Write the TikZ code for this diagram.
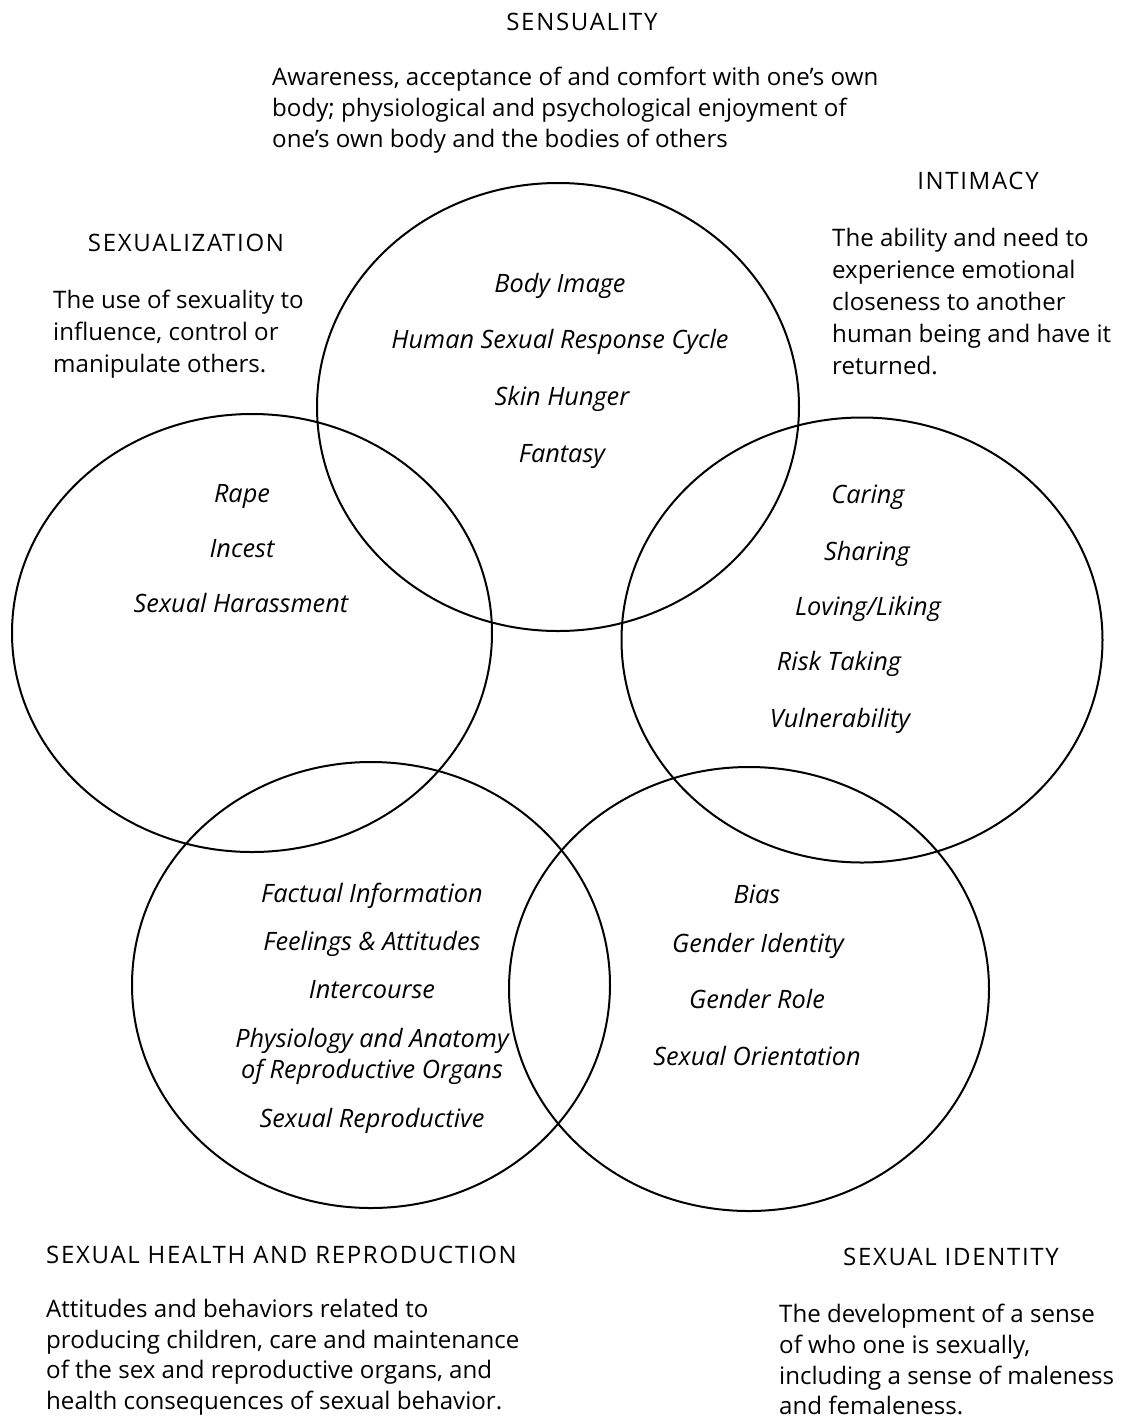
\documentclass[tikz,border=0pt]{standalone}
\usepackage{fontspec}
\setmainfont{Open Sans}
\newfontfamily\headfont{Open Sans}[LetterSpace=7]
\usetikzlibrary{shapes.geometric}
\begin{document}
\begin{tikzpicture}[x=1pt,y=-1pt,
  ring/.style={draw=black,line width=2pt,ellipse,inner sep=0pt},
  head/.style={inner sep=0pt,anchor=base,font=\headfont\fontsize{24}{28}\selectfont},
  headw/.style={inner sep=0pt,anchor=base west,font=\headfont\fontsize{24}{28}\selectfont},
  para/.style={inner sep=0pt,anchor=base west,font=\fontsize{24.1}{29}\selectfont},
  item/.style={inner sep=0pt,anchor=base,font=\fontsize{25.3}{30}\selectfont\itshape}]
\useasboundingbox (0,0) rectangle (1124,1422);
\fill[white] (0,0) rectangle (1124,1422);
% circles
\node[ring,minimum width=482pt,minimum height=448pt] (sens) at (558,407) {};
\node[ring,minimum width=480pt,minimum height=438pt] (sexz) at (252,633) {};
\node[ring,minimum width=481pt,minimum height=445pt] (intim) at (862,640) {};
\node[ring,minimum width=478pt,minimum height=446pt] (health) at (371,985) {};
\node[ring,minimum width=480pt,minimum height=444pt] (ident) at (749,989) {};
% headings
\node[head] (hsens) at (582,30) {SENSUALITY};
\node[head] (hint) at (978,189) {INTIMACY};
\node[head] (hsexz) at (186,251) {SEXUALIZATION};
\node[headw] (hhealth) at (46,1263) {SEXUAL HEALTH AND REPRODUCTION};
\node[head] (hident) at (951,1265) {SEXUAL IDENTITY};
% descriptions
\node[para] (ds1) at (272,85) {Awareness, acceptance of and comfort with one's own};
\node[para] (ds2) at (272,116) {body; physiological and psychological enjoyment of};
\node[para] (ds3) at (272,147) {one's own body and the bodies of others};
\node[para] (di1) at (832,246) {The ability and need to};
\node[para] (di2) at (832,278) {experience emotional};
\node[para] (di3) at (832,310) {closeness to another};
\node[para] (di4) at (832,342) {human being and have it};
\node[para] (di5) at (832,374) {returned.};
\node[para] (dz1) at (53,308) {The use of sexuality to};
\node[para] (dz2) at (53,340) {influence, control or};
\node[para] (dz3) at (53,372) {manipulate others.};
\node[para] (dh1) at (46,1317) {Attitudes and behaviors related to};
\node[para] (dh2) at (46,1348) {producing children, care and maintenance};
\node[para] (dh3) at (46,1378) {of the sex and reproductive organs, and};
\node[para] (dh4) at (46,1409) {health consequences of sexual behavior.};
\node[para] (dd1) at (779,1322) {The development of a sense};
\node[para] (dd2) at (779,1353) {of who one is sexually,};
\node[para] (dd3) at (779,1384) {including a sense of maleness};
\node[para] (dd4) at (779,1414) {and femaleness.};
% items: sensuality
\node[item] (t1) at (560,292) {Body Image};
\node[item] (t2) at (560,348) {Human Sexual Response Cycle};
\node[item] (t3) at (562,405) {Skin Hunger};
\node[item] (t4) at (562,462) {Fantasy};
% items: sexualization
\node[item] (z1) at (242,502) {Rape};
\node[item] (z2) at (242,557) {Incest};
\node[item] (z3) at (241,612) {Sexual Harassment};
% items: intimacy
\node[item] (i1) at (868,503) {Caring};
\node[item] (i2) at (867,560) {Sharing};
\node[item] (i3) at (868,615) {Loving/Liking};
\node[item] (i4) at (839,670) {Risk Taking};
\node[item] (i5) at (840,727) {Vulnerability};
% items: sexual health
\node[item] (h1) at (372,902) {Factual Information};
\node[item] (h2) at (372,950) {Feelings \& Attitudes};
\node[item] (h3) at (372,998) {Intercourse};
\node[item] (h4) at (372,1047) {Physiology and Anatomy};
\node[item] (h5) at (372,1078) {of Reproductive Organs};
\node[item] (h6) at (372,1127) {Sexual Reproductive};
% items: sexual identity
\node[item] (g1) at (757,903) {Bias};
\node[item] (g2) at (758,952) {Gender Identity};
\node[item] (g3) at (757,1008) {Gender Role};
\node[item] (g4) at (757,1065) {Sexual Orientation};
\end{tikzpicture}
\end{document}
